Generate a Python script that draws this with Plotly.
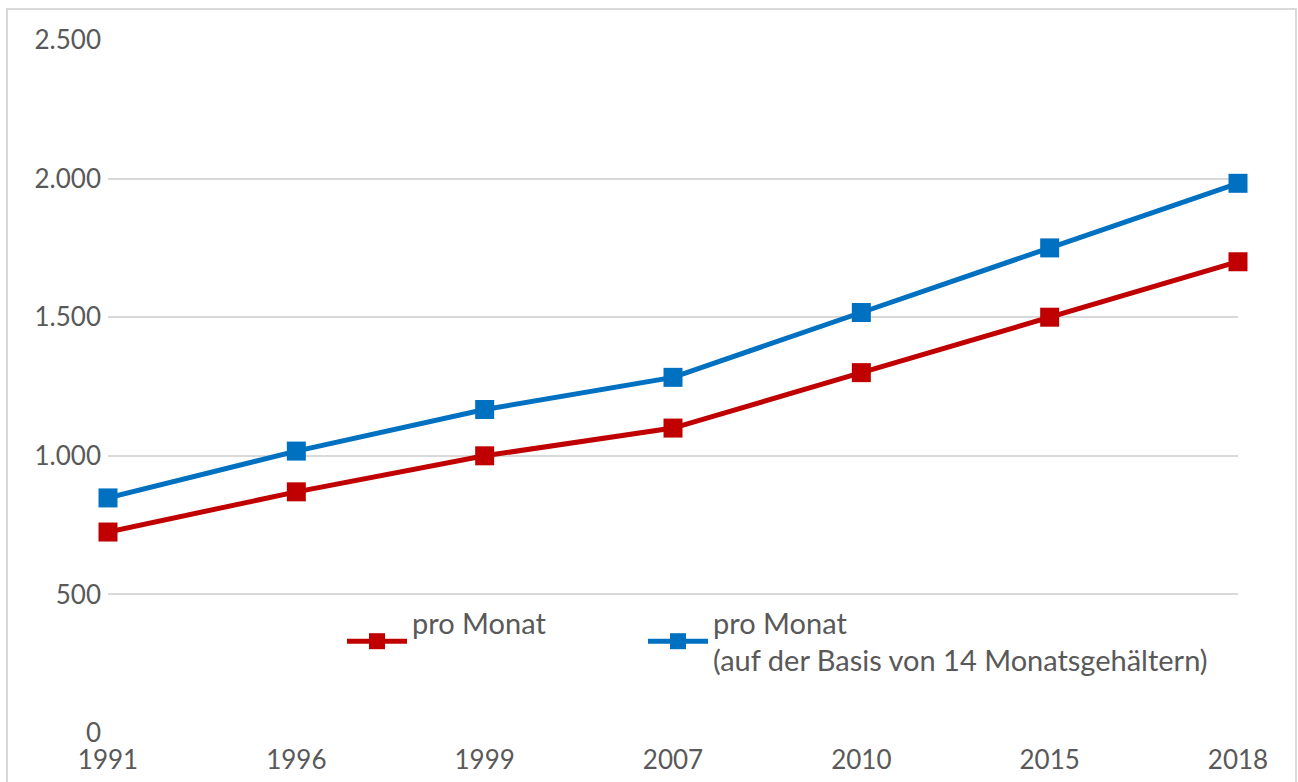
import plotly.graph_objects as go

years = ["1991", "1996", "1999", "2007", "2010", "2015", "2018"]
pro_monat = [725, 870, 1000, 1100, 1300, 1500, 1700]
pro_monat_14 = [848, 1017, 1167, 1283, 1517, 1750, 1983]

name_red = "pro Monat<br> "
name_blue = "pro Monat<br>(auf der Basis von 14 Monatsgehältern)"
red = "#C00000"
blue = "#0070C0"
font = "Lato, 'Open Sans', sans-serif"
txt = "#595959"

fig = go.Figure()
fig.add_trace(go.Scatter(x=years, y=pro_monat, name=name_red, mode="lines+markers",
                         line=dict(color=red, width=5),
                         marker=dict(symbol="square", size=19, color=red),
                         cliponaxis=False, legend="legend"))
fig.add_trace(go.Scatter(x=years, y=pro_monat_14, name=name_blue, mode="lines+markers",
                         line=dict(color=blue, width=5),
                         marker=dict(symbol="square", size=19, color=blue),
                         cliponaxis=False, legend="legend2"))

W, H = 1298, 782
ml, mr, mt, mb = 108, 60, 40, 49
pw, ph = W - ml - mr, H - mt - mb

def px_x(p):
    return (p - ml) / pw

def px_y(p):
    return (H - mb - p) / ph

leg_common = dict(orientation="h", xanchor="left", yanchor="top",
                  bgcolor="rgba(0,0,0,0)", itemwidth=60, valign="middle",
                  font=dict(size=29, color=txt), itemclick=False)

fig.update_layout(
    width=W, height=H,
    margin=dict(l=ml, r=mr, t=mt, b=mb, autoexpand=False),
    paper_bgcolor="white", plot_bgcolor="white",
    font=dict(family=font, size=26, color=txt),
    separators=",.",
    xaxis=dict(type="category", range=[0, 6], showgrid=False, showline=False,
               zeroline=False, ticks="", ticklabelstandoff=9, automargin=False,
               tickfont=dict(size=26, color=txt)),
    yaxis=dict(range=[0, 2500], dtick=500, tickformat=",", showgrid=True,
               gridcolor="#D9D9D9", gridwidth=2, zeroline=False, showline=False,
               ticks="", ticklabelstandoff=6, automargin=False,
               tickfont=dict(size=26, color=txt)),
    showlegend=True,
    legend=dict(x=px_x(342), y=px_y(597), **leg_common),
    legend2=dict(x=px_x(643), y=px_y(597), **leg_common),
    shapes=[dict(type="rect", xref="paper", yref="paper",
                 x0=px_x(7), x1=px_x(1296), y0=px_y(800), y1=px_y(9),
                 line=dict(color="#D9D9D9", width=2), fillcolor="rgba(0,0,0,0)",
                 layer="below")],
)

fig.write_html("out.html", config={"displayModeBar": False},
               post_script="document.body.style.margin='0';")
